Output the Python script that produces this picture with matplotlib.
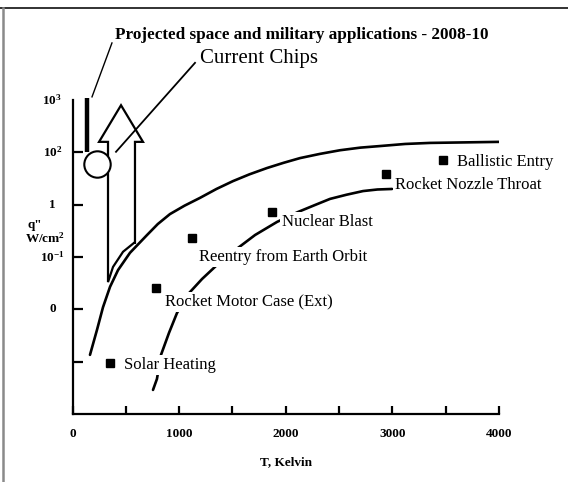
import matplotlib
matplotlib.use("Agg")
import matplotlib.pyplot as plt
from matplotlib.lines import Line2D
from matplotlib.patches import Polygon

plt.rcParams['font.family'] = ['Liberation Serif', 'DejaVu Serif']
plt.rcParams['mathtext.fontset'] = 'custom'
plt.rcParams['mathtext.rm'] = 'Liberation Serif:bold'
plt.rcParams['mathtext.bf'] = 'Liberation Serif:bold'
plt.rcParams['mathtext.it'] = 'Liberation Serif:bold'

# ---------------- data ----------------
# application points (T in K, ordinal heat-flux level)
app_names = ["Solar Heating", "Rocket Motor Case (Ext)", "Reentry from Earth Orbit",
             "Nuclear Blast", "Rocket Nozzle Throat", "Ballistic Entry"]
app_T = [350, 783, 1121, 1871, 2940, 3475]
app_q = [0.98, 2.41, 3.36, 3.86, 4.59, 4.85]

# upper envelope curve
upper_T = [164, 230, 286, 352, 427, 539, 699, 800, 914, 1050, 1196, 1350, 1505, 1660, 1824,
           1980, 2134, 2320, 2509, 2700, 2884, 3120, 3353, 3680, 4000]
upper_q = [1.13, 1.61, 2.04, 2.43, 2.75, 3.08, 3.42, 3.63, 3.82, 3.98, 4.13, 4.30, 4.45, 4.58, 4.70,
           4.80, 4.89, 4.97, 5.04, 5.09, 5.12, 5.16, 5.18, 5.19, 5.20]

# lower curve (broken by labels)
lower_T = [755, 792, 830, 905, 980, 1093, 1215, 1346, 1524, 1712, 1918, 2115, 2270, 2415, 2570, 2725, 2860, 2997]
lower_q = [0.46, 0.67, 1.13, 1.55, 1.93, 2.31, 2.58, 2.83, 3.13, 3.42, 3.67, 3.86, 3.99, 4.11, 4.19, 4.26, 4.29, 4.30]

# "Current Chips" hollow arrow outline
arrow_T = [333, 333, 249, 455, 661, 586, 586, 577, 474, 380, 333]
arrow_q = [2.52, 5.20, 5.20, 5.90, 5.20, 5.20, 3.27, 3.27, 3.10, 2.81, 2.52]

# projected applications bar and current chips circle
proj_T = [136, 136]
proj_q = [5.01, 6.04]
chip_T = [230]
chip_q = [4.78]

# leader lines
proj_leader_T = [183, 370]
proj_leader_q = [6.06, 7.09]
chip_leader_T = [408, 1149]
chip_leader_q = [5.01, 6.71]

# axes ticks / labels
x_major = [0, 1000, 2000, 3000, 4000]
x_major_labels = ["0", "1000", "2000", "3000", "4000"]
x_minor = [500, 1500, 2500, 3500]
y_levels = [1, 2, 3, 4, 5, 6]
y_labels = ["", "0", r"$10^{-1}$", "1", r"$10^{2}$", r"$10^{3}$"]

title_text = "Projected space and military applications - 2008-10"
chips_text = "Current Chips"
xlabel_text = "T, Kelvin"

# label offsets (points) relative to each marker
label_offsets = [(10, -1.5), (6.5, -10), (5, -13.7), (7.2, -7.2), (6.5, -8), (10, -1.5)]

# ---------------- figure ----------------
W, H = 568, 482
fig = plt.figure(figsize=(W / 100, H / 100), dpi=100)
ax = fig.add_axes([72.5 / W, 68 / H, 426.5 / W, 314 / H])
ax.set_xlim(0, 4000)
ax.set_ylim(0, 6)

for s in ['top', 'right']:
    ax.spines[s].set_visible(False)
for s in ['left', 'bottom']:
    ax.spines[s].set_linewidth(1.6)
    ax.spines[s].set_color('black')

ax.set_xticks(x_major)
ax.set_xticklabels(x_major_labels, fontsize=9.5, fontweight='bold')
ax.set_xticks(x_minor, minor=True)
ax.tick_params(axis='x', which='both', direction='in', length=6, width=1.6, pad=10)

ax.set_yticks(y_levels)
ax.set_yticklabels([])
ax.tick_params(axis='y', which='both', direction='in', length=7.5, width=1.6)
ax.yaxis.get_major_ticks()[-1].tick1line.set_visible(False)
for lev, lab in zip(y_levels, y_labels):
    if lab:
        ax.annotate(lab, xy=(0, lev), xycoords=('axes fraction', 'data'),
                    xytext=(-14.5, 0), textcoords='offset points',
                    ha='center', va='center', fontsize=9.5, fontweight='bold')

ax.set_xlabel(xlabel_text, fontsize=9.5, fontweight='bold', labelpad=12)

# y-axis unit label
fig.text(27 / W, 1 - 225 / H, 'q"', fontsize=9.5, fontweight='bold', ha='left', va='center')
fig.text(25 / W, 1 - 238 / H, r'W/cm$^{2}$', fontsize=9.5, fontweight='bold', ha='left', va='center')

# curves
ax.plot(upper_T, upper_q, color='black', lw=1.9, solid_capstyle='round',
        solid_joinstyle='round', zorder=3)
ax.plot(lower_T, lower_q, color='black', lw=1.9, solid_capstyle='round',
        solid_joinstyle='round', zorder=2)

# hollow arrow
ax.add_patch(Polygon(list(zip(arrow_T, arrow_q)), closed=True, facecolor='none',
                     edgecolor='black', lw=1.6, joinstyle='miter', zorder=4, clip_on=False))

# projected bar and circle
ax.plot(proj_T, proj_q, color='black', lw=3.2, solid_capstyle='butt', zorder=4, clip_on=False)
ax.plot(chip_T, chip_q, 'o', ms=19, mfc='white', mec='black', mew=1.5, zorder=5, clip_on=False)

# leaders
ax.plot(proj_leader_T, proj_leader_q, color='black', lw=1.0, zorder=4, clip_on=False)
ax.plot(chip_leader_T, chip_leader_q, color='black', lw=1.3, zorder=6, clip_on=False)

# application markers and labels
ax.plot(app_T, app_q, 's', ms=6, color='black', zorder=6, clip_on=False)
for name, t, q, off in zip(app_names, app_T, app_q, label_offsets):
    ax.annotate(name, xy=(t, q), xytext=off, textcoords='offset points',
                ha='left', va='center', fontsize=12, zorder=7,
                bbox=dict(boxstyle='square,pad=0.12', fc='white', ec='none'))

# titles
fig.text(115 / W, 1 - 35 / H, title_text, fontsize=12.3, fontweight='bold', ha='left', va='center')
fig.text(200 / W, 1 - 58 / H, chips_text, fontsize=15, ha='left', va='center')

# outer frame lines
fig.add_artist(Line2D([0, 1], [1 - 8 / H, 1 - 8 / H], transform=fig.transFigure,
                      color='#222222', lw=1.3))
fig.add_artist(Line2D([3 / W, 3 / W], [0, 1 - 8 / H], transform=fig.transFigure,
                      color='#8a8a8a', lw=1.8))

fig.savefig('out.png', dpi=100)
